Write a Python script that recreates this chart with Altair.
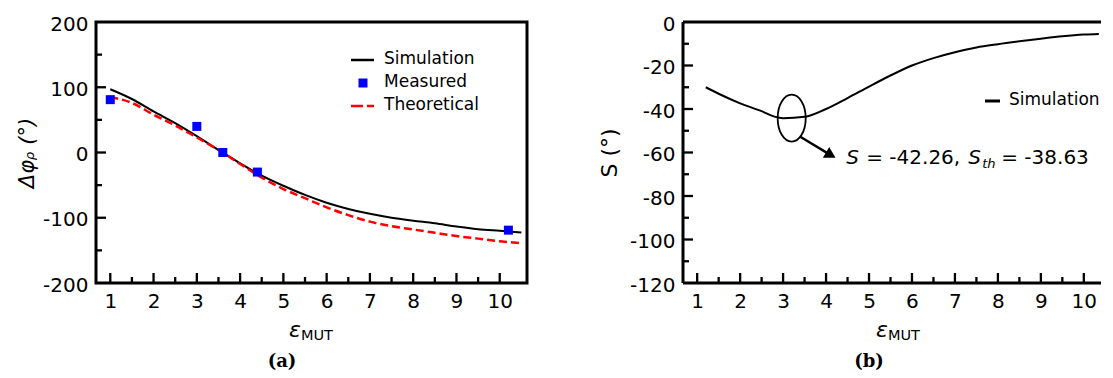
import altair as alt
import pandas as pd

FONT = "DejaVu Sans"
SERIF = "DejaVu Serif"
BLACK, BLUE, RED = "#000000", "#0000ff", "#ff0000"

# ---------------- panel (a) data ----------------
EPS_A = [1.0, 1.5, 2.0, 2.5, 3.0, 3.5, 4.0, 4.5, 5.0, 5.5, 6.0, 6.5, 7.0, 7.5, 8.0, 8.5, 9.0, 9.5, 10.0, 10.5]
SIM_A = [97, 82, 63, 45, 25, 4, -16.5, -35.5, -51, -65, -77, -86.5, -94, -100, -104.5, -108.5, -113.5, -117.5, -120, -122.5]
THEO_A = [85, 76, 58, 41.5, 23, 4, -17.5, -38.5, -56, -70, -84, -96, -106, -113, -118, -123, -128, -132, -136, -139]
MEAS_EPS = [1.0, 3.0, 3.6, 4.4, 10.2]
MEAS_VAL = [81, 40, 0, -30, -119]
SERIES_A = ["Simulation", "Measured", "Theoretical"]

# ---------------- panel (b) data ----------------
EPS_B = [1.2, 1.5, 2.0, 2.5, 2.8, 3.0, 3.5, 4.0, 4.5, 5.0, 5.5, 6.0, 6.5, 7.0, 7.5, 8.0, 8.5, 9.0, 9.5, 10.0, 10.35]
SIM_B = [-30, -33, -37.4, -41, -43.5, -44.2, -43.6, -40, -35, -29.7, -24.6, -20, -16.6, -13.9, -11.7, -10.2, -8.9, -7.7, -6.6, -5.8, -5.5]
SERIES_B = ["Simulation"]

# annotation (panel b), in data units
ELLIPSE_X, ELLIPSE_Y = [3.2], [-44.2]
ARROW_X, ARROW_Y, ARROW_X2, ARROW_Y2 = [3.4], [-52.8], [4.11], [-61.2]
NOTE_X, NOTE_Y = 4.47, -65.3
NOTE_TEXT = ["S", "= -42.26,", "S", "th", "= -38.63"]
NOTE_STYLE = ["italic", "normal", "italic", "italic", "normal"]
NOTE_SIZE = [20, 20, 20, 13, 20]
NOTE_DX = [0, 20, 122, 136, 155]
NOTE_DY = [0, 0, 0, 4, 0]

# axes
XA_DOMAIN = [0.67, 10.63]
XB_DOMAIN = [0.67, 10.4]
X_LABELS = [1, 2, 3, 4, 5, 6, 7, 8, 9, 10]
X_MINOR = [1.5, 2.5, 3.5, 4.5, 5.5, 6.5, 7.5, 8.5, 9.5]
YA_DOMAIN = [-200, 200]
YA_LABELS = [-200, -100, 0, 100, 200]
YA_MAJOR = [-100, 0, 100]
YA_MINOR = [-150, -50, 50, 150]
YB_DOMAIN = [-120, 0]
YB_LABELS = [-120, -100, -80, -60, -40, -20, 0]
YB_MAJOR = [-100, -80, -60, -40, -20]
YB_MINOR = [-110, -90, -70, -50, -30, -10]

W_A, W_B, H = 431, 418, 261
MAJOR_LEN, MINOR_LEN = 10, 6
FRAME_W = 3
TICK_W = 2.3

ELLIPSE_PATH = ("M0,-1 C0.329,-1 0.596,-0.552 0.596,0 C0.596,0.552 0.329,1 0,1 "
                "C-0.329,1 -0.596,0.552 -0.596,0 C-0.596,-0.552 -0.329,-1 0,-1 Z")
LABEL_EXPR = "'' + datum.value"


def x_axis():
    return alt.Axis(values=X_LABELS, labelExpr=LABEL_EXPR, title=None, labelFlush=False,
                    labelOverlap=False, labelPadding=8)


def y_axis(labels, title, title_x, size, style):
    return alt.Axis(values=labels, labelExpr=LABEL_EXPR, title=title, labelFlush=False,
                    labelOverlap=False, labelPadding=8, labelOffset=2,
                    titleX=title_x, titleAngle=270, titleBaseline="middle", titleAlign="center",
                    titleFont=FONT, titleFontSize=size, titleFontStyle=style,
                    titleFontWeight="normal", titleColor="black")


def tick_layers(X, Y, majors, minors):
    layers = []
    for vals, ln in ((X_LABELS, MAJOR_LEN), (X_MINOR, MINOR_LEN)):
        layers.append(alt.Chart(pd.DataFrame({"x": vals})).mark_rule(color="black", strokeWidth=TICK_W)
                      .encode(x=X, y=alt.value(H), y2=alt.value(H - ln)))
    for vals, ln in ((majors, MAJOR_LEN), (minors, MINOR_LEN)):
        layers.append(alt.Chart(pd.DataFrame({"y": vals})).mark_rule(color="black", strokeWidth=TICK_W)
                      .encode(y=Y, x=alt.value(0), x2=alt.value(ln)))
    return layers


def text_layer(t, x, y, size, style="normal", weight="normal", font=FONT, align="left", baseline="alphabetic"):
    return alt.Chart(pd.DataFrame({"t": [t]})).mark_text(
        font=font, fontSize=size, fontStyle=style, fontWeight=weight, align=align,
        baseline=baseline, color="black"
    ).encode(text="t:N", x=alt.value(x), y=alt.value(y))


def x_title_layers(caption):
    return [
        text_layer("ε", 193, 315, 22, style="italic"),
        text_layer("MUT", 205, 318, 14.5),
        text_layer(caption, 186, 340, 18, weight="bold", font=SERIF, align="center", baseline="middle"),
    ]


def hline(x0, x1, y, color, width, dash=None):
    kw = dict(color=color, strokeWidth=width)
    if dash:
        kw["strokeDash"] = dash
    return alt.Chart(pd.DataFrame({"k": [0]})).mark_rule(**kw).encode(
        x=alt.value(x0), x2=alt.value(x1), y=alt.value(y))


def vline(x, y0, y1, color, width):
    return alt.Chart(pd.DataFrame({"k": [0]})).mark_rule(color=color, strokeWidth=width).encode(
        x=alt.value(x), y=alt.value(y0), y2=alt.value(y1))


# ---------------- panel (a) ----------------
XA = alt.X("x:Q", scale=alt.Scale(domain=XA_DOMAIN, nice=False, zero=False), axis=x_axis())
YA = alt.Y("y:Q", scale=alt.Scale(domain=YA_DOMAIN, nice=False, zero=False),
           axis=y_axis(YA_LABELS, "Δφᵨ (°)", -69, 21, "italic"))

sim_a_df = pd.DataFrame({"x": EPS_A, "y": SIM_A})
theo_a_df = pd.DataFrame({"x": EPS_A, "y": THEO_A})
meas_df = pd.DataFrame({"x": MEAS_EPS, "y": MEAS_VAL})

sim_a = alt.Chart(sim_a_df).mark_line(color=BLACK, strokeWidth=2, interpolate="monotone").encode(x=XA, y=YA)
theo_a = alt.Chart(theo_a_df).mark_line(color=RED, strokeWidth=2.5, strokeDash=[8, 4],
                                        interpolate="monotone").encode(x=XA, y=YA)
meas = alt.Chart(meas_df).mark_square(color=BLUE, size=81, filled=True, opacity=1).encode(x=XA, y=YA)

legend_a = [
    hline(255, 278, 38, BLACK, 2.5),
    alt.Chart(pd.DataFrame({"k": [0]})).mark_square(color=BLUE, size=81, filled=True, opacity=1).encode(
        x=alt.value(267), y=alt.value(61)),
    hline(255, 278, 84, RED, 2.5, [12, 4]),
]
for i, name in enumerate(SERIES_A):
    legend_a.append(text_layer(name, 288, 37 + 23 * i, 17, baseline="middle"))

panel_a = alt.layer(
    *tick_layers(XA, YA, YA_MAJOR, YA_MINOR), sim_a, theo_a, meas, *legend_a, *x_title_layers("(a)")
).properties(width=W_A, height=H, view=alt.ViewBackground(stroke="black", strokeWidth=FRAME_W))

# ---------------- panel (b) ----------------
XB = alt.X("x:Q", scale=alt.Scale(domain=XB_DOMAIN, nice=False, zero=False), axis=x_axis())
YB = alt.Y("y:Q", scale=alt.Scale(domain=YB_DOMAIN, nice=False, zero=False),
           axis=y_axis(YB_LABELS, "S (°)", -74, 22, "normal"))

sim_b_df = pd.DataFrame({"x": EPS_B, "y": SIM_B})
sim_b = alt.Chart(sim_b_df).mark_line(color=BLACK, strokeWidth=2, interpolate="monotone").encode(x=XB, y=YB)

ellipse = alt.Chart(pd.DataFrame({"x": ELLIPSE_X, "y": ELLIPSE_Y})).mark_point(
    shape=ELLIPSE_PATH, size=2209, filled=False, stroke="black", strokeWidth=1.8, opacity=1
).encode(x=XB, y=YB)

arrow = alt.Chart(pd.DataFrame({"x": ARROW_X, "y": ARROW_Y, "x2": ARROW_X2, "y2": ARROW_Y2})).mark_rule(
    color="black", strokeWidth=2.4
).encode(x=XB, y=YB, x2="x2:Q", y2="y2:Q")

head = alt.Chart(pd.DataFrame({"x": ARROW_X2, "y": ARROW_Y2})).mark_point(
    shape="triangle-right", size=160, filled=True, color="black", opacity=1, angle=30
).encode(x=XB, y=YB)

note_layers = []
for t, st, fs, dx, dy in zip(NOTE_TEXT, NOTE_STYLE, NOTE_SIZE, NOTE_DX, NOTE_DY):
    note_layers.append(
        alt.Chart(pd.DataFrame({"x": [NOTE_X], "y": [NOTE_Y], "t": [t]})).mark_text(
            font=FONT, fontSize=fs, fontStyle=st, align="left", baseline="alphabetic",
            dx=dx, dy=dy, color="black"
        ).encode(x=XB, y=YB, text="t:N")
    )

legend_b = [
    hline(302, 317, 79, BLACK, 3),
    text_layer(SERIES_B[0], 326, 78, 17, baseline="middle"),
]

# open frame (right side is cut off in the original)
frame_b = [
    hline(0, W_B, 0, BLACK, FRAME_W),
    hline(0, W_B, H, BLACK, FRAME_W),
    vline(0, 0, H, BLACK, FRAME_W),
]

panel_b = alt.layer(
    *frame_b, *tick_layers(XB, YB, YB_MAJOR, YB_MINOR), sim_b, ellipse, arrow, head, *note_layers,
    *legend_b, *x_title_layers("(b)")
).properties(width=W_B, height=H, view=alt.ViewBackground(stroke="transparent"))

chart = alt.hconcat(panel_a, panel_b, spacing=68).properties(
    padding={"left": 6, "top": 4, "right": 0, "bottom": 0}, background="white"
).configure_axis(
    domain=False, grid=False, ticks=False, labelFont=FONT, labelFontSize=20, labelColor="black"
)

chart.save("out.html", embed_options={"renderer": "svg", "actions": False})
